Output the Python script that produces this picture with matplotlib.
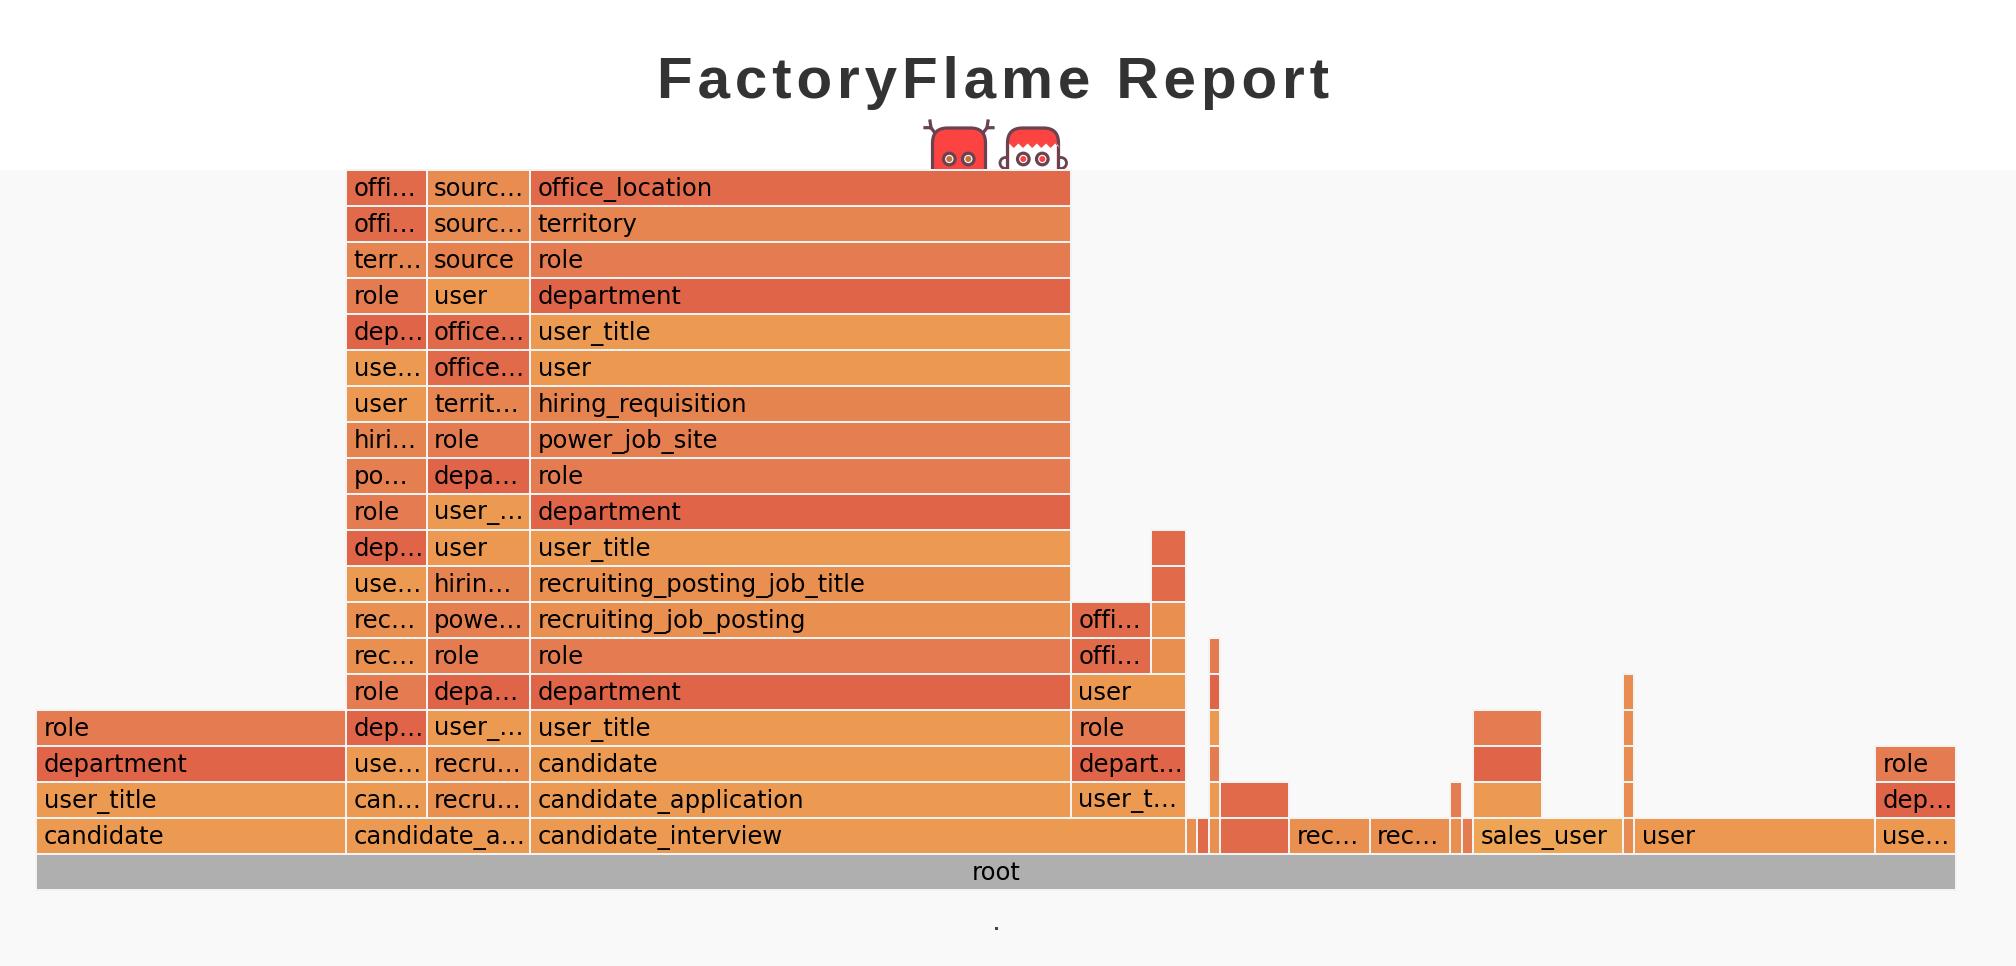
#!/usr/bin/env python3

import matplotlib
matplotlib.use("Agg")
import matplotlib.pyplot as plt
from matplotlib.patches import Circle, FancyBboxPatch, Polygon, Rectangle

plt.rcParams["font.family"] = ["DejaVu Sans"]

TITLE = "FactoryFlame Report"
TOTAL_SAMPLES = 1920
DEPTH = 20

# each column is a stack of frames sharing the same start and value
column_starts = [0, 0, 310, 494, 310, 390.5, 494, 1035, 1035, 1115, 1150, 1161, 1172.5, 1184,
                 1253, 1333.5, 1414, 1425.5, 1437, 1437, 1586.5, 1598, 1839]
column_values = [1920, 310, 184, 656, 80.5, 103.5, 541, 115, 80, 35, 11, 11.5, 11.5, 69,
                 80.5, 80.5, 11.5, 11.5, 149.5, 69, 11.5, 241, 81]
column_first_level = [0, 1, 1, 1, 2, 2, 2, 2, 6, 6, 1, 1, 1, 1,
                      1, 1, 1, 1, 1, 2, 1, 1, 1]
column_labels = [
    ["root"],
    ["candidate", "user_title", "department", "role"],
    ["candidate_a…"],
    ["candidate_interview"],
    ["can…", "use…", "dep…", "role", "rec…", "rec…", "use…", "dep…", "role",
     "po…", "hiri…", "user", "use…", "dep…", "role", "terr…", "offi…", "offi…"],
    ["recru…", "recru…", "user_…", "depa…", "role", "powe…", "hirin…", "user", "user_…",
     "depa…", "role", "territ…", "office…", "office…", "user", "source", "sourc…", "sourc…"],
    ["candidate_application", "candidate", "user_title", "department", "role",
     "recruiting_job_posting", "recruiting_posting_job_title", "user_title", "department",
     "role", "power_job_site", "hiring_requisition", "user", "user_title", "department",
     "role", "territory", "office_location"],
    ["user_t…", "depart…", "role", "user"],
    ["offi…", "offi…"],
    ["", "", "", ""],
    [""],
    [""],
    ["", "", "", "", "", ""],
    ["", ""],
    ["rec…"],
    ["rec…"],
    ["", ""],
    [""],
    ["sales_user"],
    ["", "", ""],
    ["", "", "", "", ""],
    ["user"],
    ["use…", "dep…", "role"],
]
column_kinds = [
    ["root"],
    ["candidate", "user_title", "department", "role"],
    ["candidate"],
    ["candidate"],
    ["candidate", "user_title", "department", "role", "recruiting", "recruiting", "user_title",
     "department", "role", "power", "hiring", "user", "user_title", "department", "role",
     "territory", "office", "office"],
    ["recruiting", "recruiting", "user_title", "department", "role", "power", "hiring", "user",
     "user_title", "department", "role", "territory", "office", "office", "user", "source",
     "source_x", "source_x"],
    ["candidate", "candidate", "user_title", "department", "role", "recruiting", "recruiting",
     "user_title", "department", "role", "power", "hiring", "user", "user_title", "department",
     "role", "territory", "office"],
    ["user_title", "department", "role", "user"],
    ["office", "office"],
    ["recruiting", "recruiting", "office", "office"],
    ["recruiting"],
    ["office"],
    ["recruiting", "candidate", "role", "user_title", "department", "role"],
    ["office", "office"],
    ["recruiting"],
    ["recruiting"],
    ["recruiting", "role"],
    ["role"],
    ["sales_user"],
    ["user_title", "department", "role"],
    ["source_x", "source_x", "source_x", "source_x", "source_x"],
    ["user"],
    ["user", "department", "role"],
]

kind_colors = {
    "root": "#AFAFAF",
    "candidate": "#EC9A52",
    "user_title": "#EC9A52",
    "user": "#EC9851",
    "department": "#E06448",
    "role": "#E57B50",
    "office": "#E06A49",
    "territory": "#E6854F",
    "source": "#E7824F",
    "source_x": "#E98C52",
    "recruiting": "#E98F50",
    "hiring": "#E6844F",
    "power": "#E67F4F",
    "sales_user": "#EFA556",
}

PX = 72 / 100  # one pixel in points
LOGO_RED = "#FB4442"
LOGO_LINE = "#6B4250"

fig = plt.figure(figsize=(20.16, 9.66), dpi=100, facecolor="white")

# pixel layer for the page background and the logo
page = fig.add_axes([0, 0, 1, 1], zorder=0)
page.set_xlim(0, 2016)
page.set_ylim(966, 0)
page.axis("off")


def rounded_head(x0, x1):
    page.add_patch(FancyBboxPatch((x0, 128), x1 - x0, 80, boxstyle="round,pad=0,rounding_size=15",
                                  fc=LOGO_RED, ec=LOGO_LINE, lw=3.2 * PX, zorder=2))


def eye(x, pupil):
    page.add_patch(Circle((x, 159), 5.8, fc="white", ec=LOGO_LINE, lw=3.2 * PX, zorder=4))
    page.add_patch(Circle((x, 159), 3, fc=pupil, ec="none", zorder=5))


# left monster
rounded_head(932.5, 985.5)
for x, d in [(935, -1), (983, 1)]:
    page.plot([x, x + d * 4, x + d * 10], [133, 127.7, 127.7], color=LOGO_LINE, lw=3.2 * PX, zorder=1)
    page.plot([x + d * 4, x + d * 5], [127.7, 121], color=LOGO_LINE, lw=3.2 * PX, zorder=1)
eye(949.3, "#C4703A")
eye(968.3, "#C4703A")

# right monster
for x in (1005.5, 1061):
    page.add_patch(Circle((x, 163), 5.5, fc="white", ec=LOGO_LINE, lw=2.8 * PX, zorder=1))
rounded_head(1007.5, 1058.5)
teeth = [(1009.2, 200), (1009.2, 143.5)]
for i in range(11):
    teeth.append((1009.2 + 4.6 * (i + 1), 148 if i % 2 == 0 else 143.5))
teeth += [(1056.8, 143.5), (1056.8, 200)]
page.add_patch(Polygon(teeth, fc="white", ec="none", zorder=3))
eye(1023.3, LOGO_RED)
eye(1042.3, LOGO_RED)

page.add_patch(Rectangle((0, 170), 2016, 796, fc="#F9F9F9", ec="none", zorder=6))

# the flame itself, one unit is one sample
ax = fig.add_axes([36 / 2016, (966 - 890) / 966, TOTAL_SAMPLES / 2016, 720 / 966], zorder=1)
ax.set_xlim(0, TOTAL_SAMPLES)
ax.set_ylim(0, DEPTH)
ax.axis("off")

for start, value, first, labels, kinds in zip(column_starts, column_values, column_first_level,
                                              column_labels, column_kinds):
    levels = [first + i for i in range(len(labels))]
    colors = [kind_colors[k] for k in kinds]
    ax.barh(levels, value, left=start, height=1, align="edge", color=colors,
            edgecolor="#F3F3F3", linewidth=2 * PX, clip_on=False)
    for level, label in zip(levels, labels):
        if label == "root":
            ax.text(start + value / 2, level + 0.55, label, ha="center", va="center_baseline",
                    fontsize=17.5, color="black")
        elif label:
            ax.text(start + 7.5, level + 0.55, label, ha="left", va="center_baseline",
                    fontsize=17.5, color="black")

fig.text(993.5 / 2016, 1 - 98 / 966, "\u200a".join(TITLE), ha="center", va="baseline",
         fontsize=42, fontweight="bold", color="#333333",
         family=["Liberation Sans", "DejaVu Sans"])

# tiny speck under the root frame
page.plot([995.5], [927.5], marker="s", markersize=3 * PX, markeredgewidth=0, color="#444444", zorder=7)

fig.savefig("out.png", dpi=100)
